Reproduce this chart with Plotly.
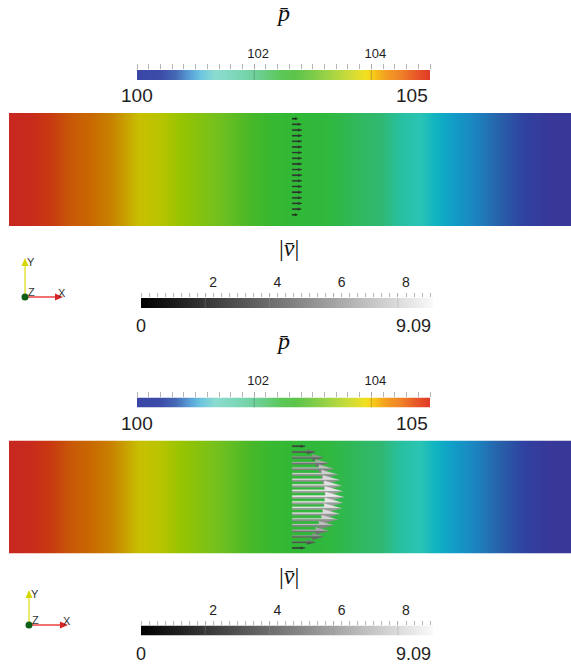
import numpy as np
import plotly.graph_objects as go

W, H = 571, 667

# ------------------------------------------------------------------ data
P_MIN, P_MAX = 100.0, 105.0
V_MIN, V_MAX = 0.0, 9.09
P_TICKS = [102, 104]
V_TICKS = [2, 4, 6, 8]
P_TITLE = "<i>p\u0304</i>"
V_TITLE = "|<i>v\u0304</i>|"

# channel geometry (visible part)
CH_LEN, CH_HEI = 5.0, 1.0

# pressure read along the channel (x position, pressure) and rendered colour
field_x = [0.0, 0.19, 0.37, 0.54, 0.72, 0.90, 1.03, 1.16, 1.34, 1.52, 1.88, 2.14, 2.32,
           2.59, 2.86, 3.12, 3.30, 3.48, 3.66, 3.79, 3.92, 4.15, 4.37, 4.59, 4.81, 5.0]
field_p = [105.0, 104.81, 104.63, 104.46, 104.28, 104.10, 103.97, 103.84, 103.66, 103.48,
           103.12, 102.86, 102.68, 102.41, 102.14, 101.88, 101.70, 101.52, 101.34, 101.21,
           101.08, 100.85, 100.63, 100.41, 100.19, 100.0]
field_colors = ["#c82820", "#c82a1c", "#c83a10", "#c85808", "#c86800", "#c88000", "#c8a000",
                "#c8c000", "#b8c400", "#98c400", "#70c020", "#48b828", "#38b830", "#30b838",
                "#30b840", "#30b860", "#30b870", "#28c0a0", "#2ac4b4", "#10b4c0", "#10a0c8",
                "#1c84c0", "#2860a8", "#3040a0", "#383898", "#383898"]

# colour legend of the pressure
pbar_vals = [100.0, 100.39, 100.65, 100.9, 101.08, 101.33, 101.76, 102.1, 102.44, 102.7,
             102.96, 103.3, 103.64, 103.9, 104.02, 104.24, 104.5, 104.75, 105.0]
pbar_colors = ["#3a46a6", "#3c4ca8", "#4468b4", "#5aa2d8", "#6cc4e0", "#8cdcd0", "#7ad6b4",
               "#6cce90", "#5cc858", "#5cc44a", "#78ca4c", "#a2d444", "#d0dc38", "#f2e020",
               "#f8c818", "#f2a020", "#f08028", "#e85a28", "#e03828"]

# velocity glyphs on the probe line
probe_x = 2.52
probe_y = [0.95, 0.90, 0.85, 0.80, 0.75, 0.70, 0.65, 0.60, 0.55, 0.50,
           0.45, 0.40, 0.35, 0.30, 0.25, 0.20, 0.15, 0.10, 0.05]
u_panel1 = [0.9, 1.6, 1.7, 1.7, 1.7, 1.7, 1.7, 1.7, 1.7, 1.7,
            1.7, 1.7, 1.7, 1.7, 1.7, 1.7, 1.6, 0.9, 0.0]
u_panel2 = [2.32, 4.10, 5.53, 6.42, 7.31, 8.02, 8.38, 8.73, 8.91, 9.09,
            8.91, 8.73, 8.38, 8.02, 7.31, 6.42, 5.53, 4.10, 2.32]

# ------------------------------------------------------------------ style
GLYPH_SCALE = 0.05
FONT = "Liberation Sans"
SERIF = "Liberation Serif"
TXT = "#1e1e1e"

FIELD_X0, FIELD_X1 = 9, 571
FIELD_Y0, FIELD_Y1 = 113, 226
PX_X = (FIELD_X1 - FIELD_X0) / CH_LEN
PX_Y = (FIELD_Y1 - FIELD_Y0) / CH_HEI
OFF = 327.5


def fx(px):
    return px / W


def fy(py):
    return 1 - py / H


def cs(vals, cols, vmin, vmax):
    pairs = sorted(zip(vals, cols))
    return [[(v - vmin) / (vmax - vmin), c] for v, c in pairs]


field_cs = cs(field_p, field_colors, P_MIN, P_MAX)
pbar_cs = cs(pbar_vals, pbar_colors, P_MIN, P_MAX)
vbar_cs = [[0, "#000000"], [0.5, "#7c7c7c"], [1, "#fafafa"]]

fig = go.Figure()
layout = dict(width=W, height=H, margin=dict(l=0, r=0, t=0, b=0),
              paper_bgcolor="white", plot_bgcolor="white", showlegend=False)
annotations = []
shapes = []


def axkey(i):
    return ("xaxis" if i == 1 else f"xaxis{i}"), ("yaxis" if i == 1 else f"yaxis{i}")


def ref(i):
    return ("x" if i == 1 else f"x{i}"), ("y" if i == 1 else f"y{i}")


def gray(v):
    v = int(max(0, min(255, v)))
    return f"rgb({v},{v},{v})"


def add_field(i, dy, u_list):
    xk, yk = axkey(i)
    xr, yr = ref(i)
    layout[xk] = dict(domain=[fx(FIELD_X0), fx(FIELD_X1)], range=[0, CH_LEN], visible=False,
                      anchor=yr, fixedrange=True)
    layout[yk] = dict(domain=[fy(FIELD_Y1 + dy), fy(FIELD_Y0 + dy)], range=[0, CH_HEI],
                      visible=False, anchor=xr, fixedrange=True)
    fig.add_trace(go.Heatmap(x=field_x, y=[0, CH_HEI], z=[field_p, field_p],
                             colorscale=field_cs, zmin=P_MIN, zmax=P_MAX, zsmooth="best",
                             showscale=False, hoverinfo="skip", xaxis=xr, yaxis=yr))
    for y, u in zip(probe_y, u_list):
        if u <= 0:
            continue
        L = u * GLYPH_SCALE
        Lpx = L * PX_X
        t = max(0.03 * Lpx, 0.55) / PX_Y
        h = max(0.1 * Lpx, 1.3) / PX_Y
        xs, xh, xt = probe_x, probe_x + 0.65 * L, probe_x + L
        g = u / V_MAX
        for sgn, col in ((1, gray(20 + 215 * g)), (-1, gray(10 + 150 * g))):
            fig.add_trace(go.Scatter(
                x=[xs, xs, xh, xh, xt, xs],
                y=[y, y + sgn * t, y + sgn * t, y + sgn * h, y, y],
                mode="lines", fill="toself", fillcolor=col,
                line=dict(width=0.3, color=col), hoverinfo="skip",
                xaxis=xr, yaxis=yr))


def add_bar(i, x0, x1, ytop, vmin, vmax, ticks, minor_step, ticklen, tfont, standoff, shift,
            min_lbl, max_lbl, lfont, lgap, title, tx, ty, heat, tickline):
    xk, yk = axkey(i)
    xr, yr = ref(i)
    minor_vals = list(np.round(np.arange(vmin, vmax + 1e-9, minor_step), 3))
    layout[xk] = dict(domain=[fx(x0), fx(x1)], range=[vmin, vmax], anchor=yr, side="top",
                      showgrid=False, zeroline=False, showline=False,
                      tickmode="array", tickvals=ticks, ticktext=[str(t) for t in ticks],
                      ticks="outside", ticklen=ticklen, tickcolor="#a8a8a8", tickwidth=1,
                      tickfont=dict(family=FONT, size=tfont, color=TXT),
                      ticklabelstandoff=standoff, ticklabelshift=shift,
                      minor=dict(tickmode="array", tickvals=minor_vals, ticks="outside",
                                 ticklen=ticklen, tickcolor="#b4b4b4", tickwidth=1),
                      fixedrange=True)
    layout[yk] = dict(domain=[fy(ytop + 10), fy(ytop)], range=[0, 1], visible=False,
                      anchor=xr, fixedrange=True)
    fig.add_trace(heat(xr, yr))
    for t in ticks:
        shapes.append(dict(type="line", xref=xr, yref=f"{yr} domain", x0=t, x1=t, y0=0, y1=1,
                           line=dict(color=tickline, width=1)))
    annotations.append(dict(xref=xr, yref="paper", x=vmin, y=fy(ytop + 10 + lgap),
                            text=min_lbl, showarrow=False, xanchor="center", yanchor="top",
                            font=dict(family=FONT, size=lfont, color=TXT)))
    annotations.append(dict(xref=xr, yref="paper", x=vmax, y=fy(ytop + 10 + lgap),
                            text=max_lbl, showarrow=False, xanchor="right", yanchor="top",
                            font=dict(family=FONT, size=lfont, color=TXT)))
    annotations.append(dict(xref="paper", yref="paper", x=fx(tx), y=fy(ty), text=title,
                            showarrow=False, xanchor="center", yanchor="middle",
                            font=dict(family=SERIF, size=24, color="#111")))


def p_heat(xr, yr):
    return go.Heatmap(x=pbar_vals, y=[0, 1], z=[pbar_vals, pbar_vals], colorscale=pbar_cs,
                      zmin=P_MIN, zmax=P_MAX, zsmooth="best", showscale=False,
                      hoverinfo="skip", xaxis=xr, yaxis=yr)


def v_heat(xr, yr):
    return go.Heatmap(x=[V_MIN, V_MAX], y=[0, 1], z=[[V_MIN, V_MAX], [V_MIN, V_MAX]],
                      colorscale=vbar_cs, zmin=V_MIN, zmax=V_MAX, zsmooth="best",
                      showscale=False, hoverinfo="skip", xaxis=xr, yaxis=yr)


def add_triad(ox, oy, ylen, xlen):
    def P(x, y):
        return fx(x), fy(y)
    # Y axis (yellow)
    x0, y0 = P(ox, oy)
    x1, y1 = P(ox, oy - ylen + 7)
    shapes.append(dict(type="line", xref="paper", yref="paper", x0=x0, y0=y0, x1=x1, y1=y1,
                       line=dict(color="#eaea70", width=2)))
    a, b, c = P(ox - 3.5, oy - ylen + 8), P(ox + 3.5, oy - ylen + 8), P(ox, oy - ylen)
    shapes.append(dict(type="path", xref="paper", yref="paper",
                       path=f"M{a[0]},{a[1]} L{b[0]},{b[1]} L{c[0]},{c[1]} Z",
                       fillcolor="#d6d600", line=dict(width=0)))
    # X axis (red)
    x1, y1 = P(ox + xlen - 7, oy)
    shapes.append(dict(type="line", xref="paper", yref="paper", x0=x0, y0=y0, x1=x1, y1=y1,
                       line=dict(color="#f07070", width=2)))
    a, b, c = P(ox + xlen - 8, oy - 3.5), P(ox + xlen - 8, oy + 3.5), P(ox + xlen, oy)
    shapes.append(dict(type="path", xref="paper", yref="paper",
                       path=f"M{a[0]},{a[1]} L{b[0]},{b[1]} L{c[0]},{c[1]} Z",
                       fillcolor="#d82424", line=dict(width=0)))
    # Z (green dot)
    a, b = P(ox - 3.5, oy - 3.5), P(ox + 3.5, oy + 3.5)
    shapes.append(dict(type="circle", xref="paper", yref="paper", x0=a[0], y0=b[1],
                       x1=b[0], y1=a[1], fillcolor="#0e5e16", line=dict(width=0)))
    for txt, lx, ly in (("Y", ox + 6, oy - ylen + 4), ("Z", ox + 6, oy - 5),
                        ("X", ox + xlen - 1, oy - 4)):
        annotations.append(dict(xref="paper", yref="paper", x=fx(lx), y=fy(ly), text=txt,
                                showarrow=False, xanchor="center", yanchor="middle",
                                font=dict(family=FONT, size=11, color="#333")))


# ---------------- panel 1
add_field(1, 0, u_panel1)
add_bar(2, 137, 430, 70, P_MIN, P_MAX, P_TICKS, 0.2, 5, 13, 1, 4,
        "100", "105", 19, 3, P_TITLE, 283, 13, p_heat, "rgba(60,60,60,0.3)")
add_bar(3, 141, 433, 298, V_MIN, V_MAX, V_TICKS, 0.25, 4, 14, 0, 8,
        "0", "9.09", 18, 6, V_TITLE, 289, 248, v_heat, "rgba(150,150,150,0.35)")
add_triad(25, 297, 39, 38)

# ---------------- panel 2
add_field(4, OFF, u_panel2)
add_bar(5, 137, 430, 70 + OFF, P_MIN, P_MAX, P_TICKS, 0.2, 5, 13, 1, 4,
        "100", "105", 19, 3, P_TITLE, 283, 13 + OFF, p_heat, "rgba(60,60,60,0.3)")
add_bar(6, 141, 433, 298 + OFF, V_MIN, V_MAX, V_TICKS, 0.25, 4, 14, 0, 8,
        "0", "9.09", 18, 6, V_TITLE, 289, 248 + OFF, v_heat, "rgba(150,150,150,0.35)")
add_triad(29, 625, 35, 39)

layout["annotations"] = annotations
layout["shapes"] = shapes
fig.update_layout(**layout)
fig.write_html("out.html")
